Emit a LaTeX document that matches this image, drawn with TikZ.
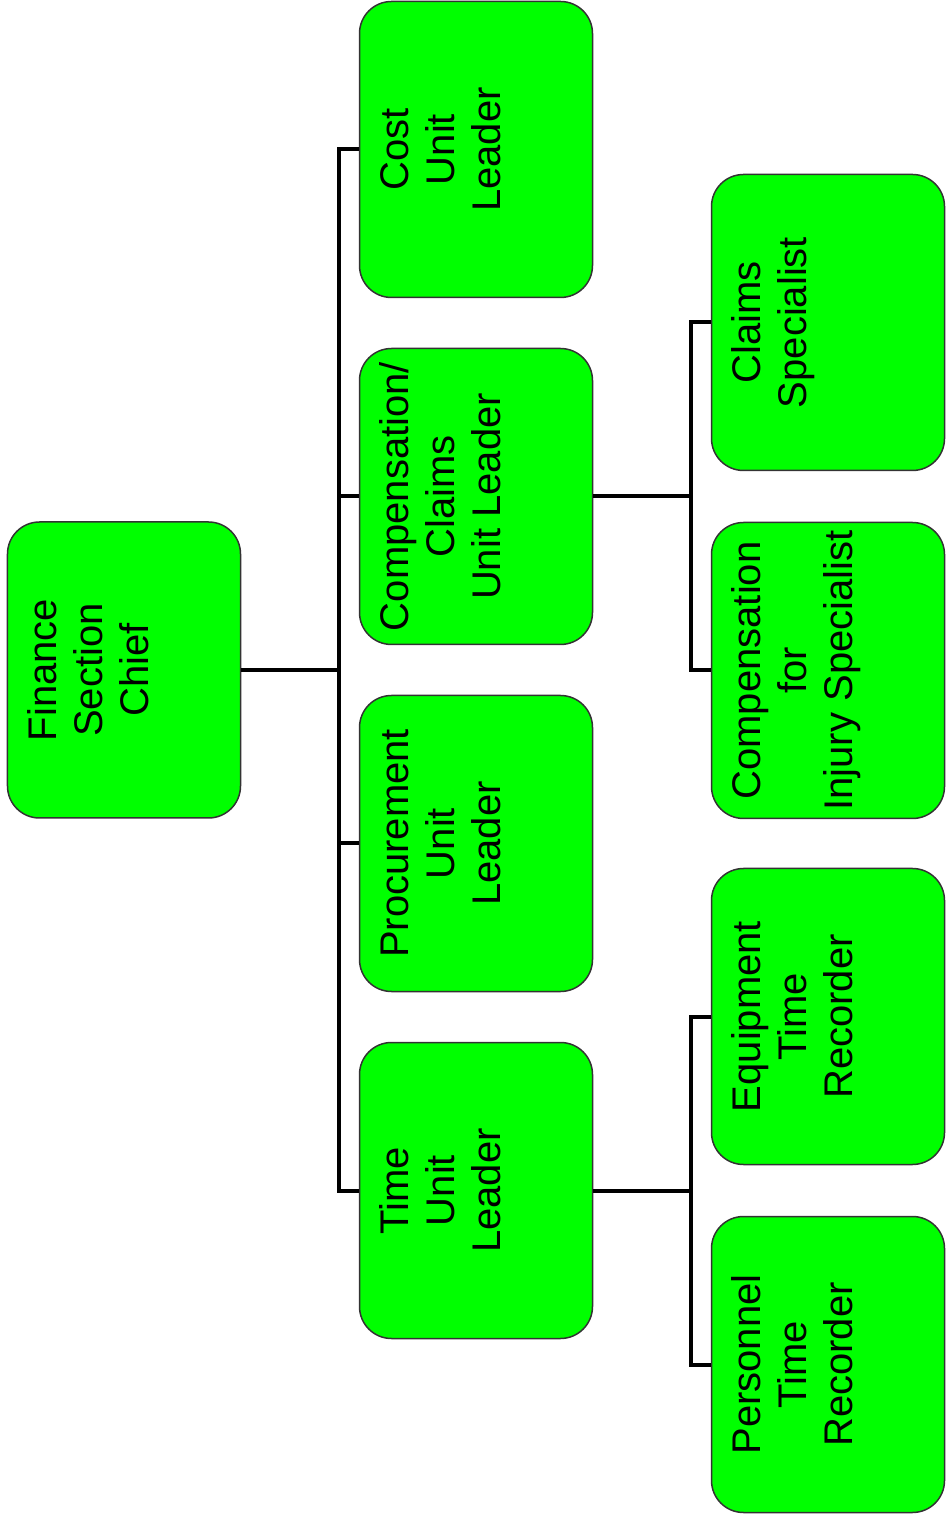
\documentclass[tikz,border=0pt]{standalone}
\usepackage{fontspec}
\setmainfont{Liberation Sans}

\begin{document}
\begin{tikzpicture}[rotate=90, transform shape,
  level distance=176pt,
  level 1/.style={sibling distance=173.5pt},
  level 2/.style={sibling distance=174pt},
  edge from parent path={(\tikzparentnode.south) -- ++(0,-49pt) -| (\tikzchildnode.north)},
  edge from parent/.style={draw, line width=2pt},
  every node/.style = {shape=rectangle, rounded corners=16pt,
    draw=black!80, line width=0.75pt, fill=green, align=center,
    minimum width=148pt, inner ysep=0pt,
    text height=70.5pt, text depth=46pt,
    font=\fontsize{20}{23}\selectfont},
  twolines/.style={text height=47.5pt, text depth=69pt}]
  \useasboundingbox (-424pt,-411pt) rectangle (335pt,62pt);
  \node (fsc) {Finance\\Section\\Chief}
    child { node (time) {Time\\Unit\\Leader}
      child { node (personnel) {Personnel\\Time\\Recorder}}
      child { node (equipment) {Equipment\\Time\\Recorder}}}
    child { node (procurement) {Procurement\\Unit\\Leader}}
    child { node (comp) {Compensation/\\Claims\\Unit Leader}
      child { node (injury) {Compensation\\for\\Injury Specialist}}
      child { node[twolines] (claims) {Claims\\Specialist}}}
    child { node (cost) {Cost\\Unit\\Leader}};
\end{tikzpicture}
\end{document}
